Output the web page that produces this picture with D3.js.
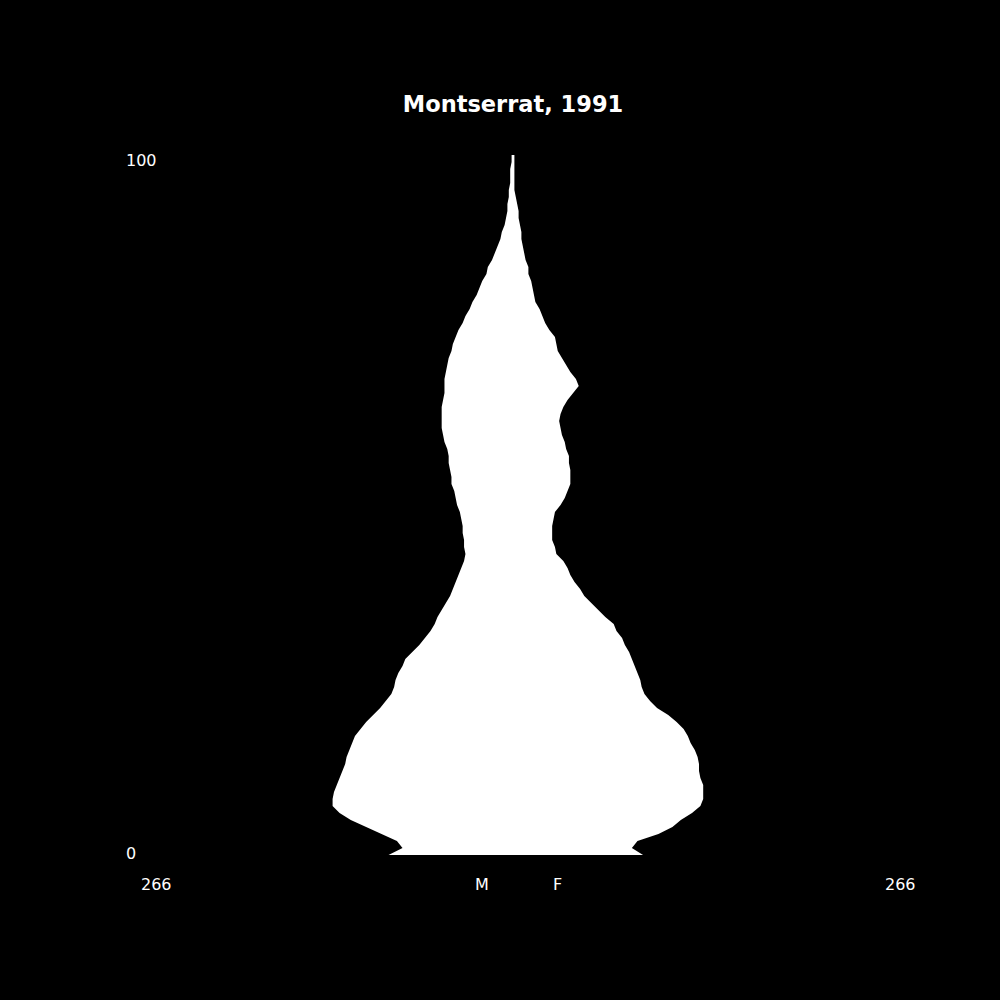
<!DOCTYPE html>
<html lang="en">

<head>
    <meta charset="utf-8">
    <title>Montserrat, 1991</title>
    <style>
        body {
            margin: 0;
            background-color: black;
        }

        text {
            font-family: "DejaVu Sans", sans-serif;
            fill: white;
        }
    </style>
</head>

<body>
    <div id="pyramid"></div>

    <script src="https://d3js.org/d3.v7.min.js"></script>

    <script>
        const title = "Montserrat, 1991"
        const maxPop = 266

        // one value per single year of age, 0 .. 100
        const ages = d3.range(0, 101)

        const male = [
            89, 79, 83, 94, 105, 116, 124, 129, 129, 128,
            126, 124, 122, 120, 119, 117, 115, 113, 109, 105,
            100, 95, 91, 87, 85, 84, 82, 79, 77, 72,
            67, 63, 59, 56, 54, 51, 48, 45, 43, 41,
            39, 37, 35, 34, 35, 35, 36, 36, 37, 38,
            40, 41, 42, 44, 44, 45, 46, 46, 47, 49,
            50, 51, 51, 51, 51, 50, 49, 49, 49, 48,
            47, 46, 44, 43, 41, 39, 36, 34, 31, 29,
            26, 24, 22, 19, 18, 15, 13, 11, 9, 8,
            6, 5, 4, 4, 3, 3, 2, 2, 2, 1,
            1
        ]

        const female = [
            93, 85, 89, 104, 114, 120, 128, 134, 136, 136,
            136, 134, 133, 133, 132, 130, 127, 125, 122, 117,
            111, 103, 98, 94, 92, 91, 89, 87, 85, 83,
            80, 78, 74, 72, 66, 61, 56, 51, 48, 44,
            41, 39, 36, 31, 30, 28, 28, 28, 29, 30,
            34, 37, 39, 41, 41, 41, 40, 40, 38, 37,
            35, 34, 33, 34, 36, 39, 43, 47, 45, 41,
            38, 35, 32, 31, 30, 26, 23, 21, 19, 16,
            15, 14, 13, 11, 11, 9, 8, 7, 6, 6,
            5, 4, 4, 3, 2, 1, 1, 1, 1, 1,
            1
        ]

        const axisLabels = {
            left: String(maxPop),
            right: String(maxPop),
            male: "M",
            female: "F",
            bottom: "0",
            top: "100"
        }

        const width = 1000
        const height = 1000
        const center = 513

        const svg = d3.select("#pyramid")
            .append("svg")
            .attr("width", width)
            .attr("height", height)

        svg.append("rect")
            .attr("width", width)
            .attr("height", height)
            .attr("fill", "black")

        const xMale = d3.scaleLinear().domain([0, maxPop]).range([center, 141])
        const xFemale = d3.scaleLinear().domain([0, maxPop]).range([center, 885])
        const y = d3.scaleLinear().domain([0, 100]).range([855, 155])

        const area = d3.area()
            .y(i => y(ages[i]))
            .x0(i => xMale(male[i]))
            .x1(i => xFemale(female[i]))
            .curve(d3.curveLinear)

        svg.append("path")
            .datum(d3.range(ages.length))
            .attr("d", area)
            .attr("fill", "white")

        svg.append("text")
            .attr("x", center)
            .attr("y", 112)
            .attr("text-anchor", "middle")
            .style("font-size", "22.5px")
            .style("font-weight", "bold")
            .text(title)

        // age labels on the left
        svg.append("text")
            .attr("x", 126)
            .attr("y", 166)
            .style("font-size", "16px")
            .text(axisLabels.top)

        svg.append("text")
            .attr("x", 126)
            .attr("y", 859)
            .style("font-size", "16px")
            .text(axisLabels.bottom)

        // population labels under the pyramid
        const bottomRow = [
            { x: xMale(maxPop), t: axisLabels.left },
            { x: center - 38, t: axisLabels.male },
            { x: center + 40, t: axisLabels.female },
            { x: xFemale(maxPop), t: axisLabels.right }
        ]

        svg.selectAll(".bottom-label")
            .data(bottomRow)
            .join("text")
            .attr("class", "bottom-label")
            .attr("x", d => d.x)
            .attr("y", 890)
            .style("font-size", "16px")
            .text(d => d.t)
    </script>
</body>

</html>
